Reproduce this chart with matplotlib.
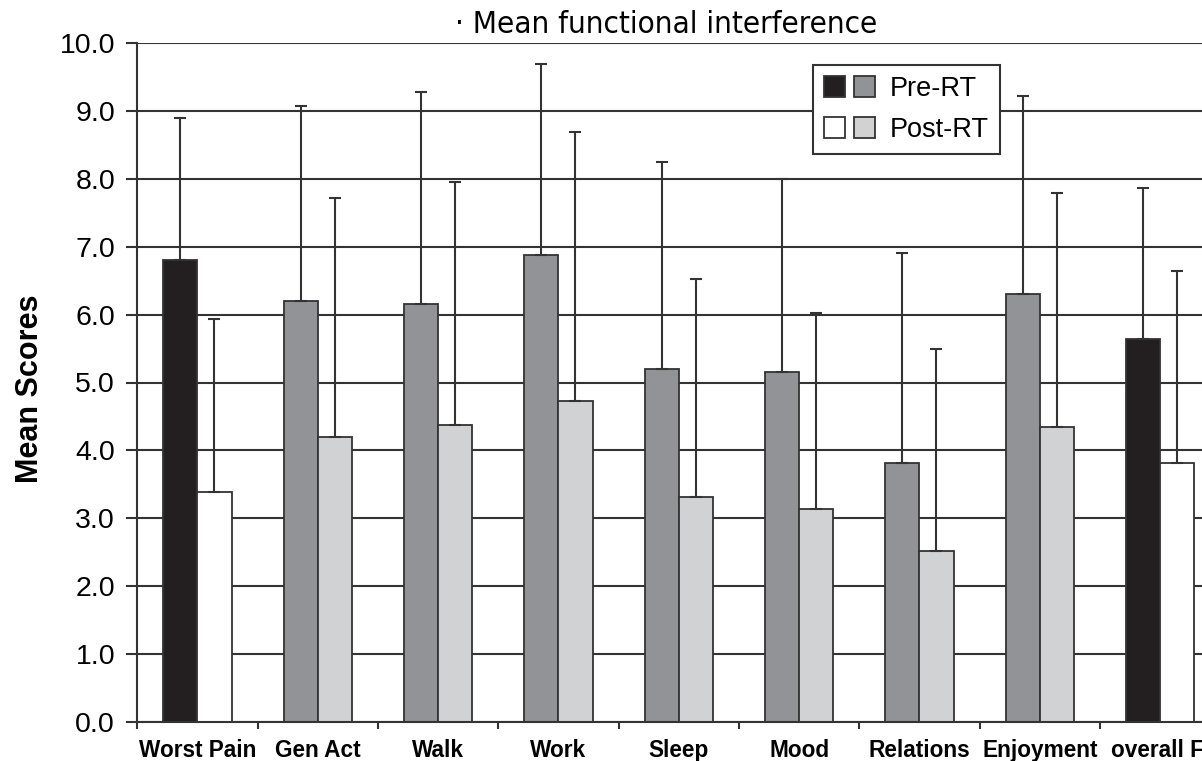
import matplotlib
matplotlib.use("Agg")
import matplotlib.pyplot as plt
import numpy as np
from matplotlib.patches import Patch
from matplotlib.legend_handler import HandlerTuple

# Pain interference items (BPI) before and after radiotherapy
categories = ["Worst Pain", "Gen Act", "Walk", "Work", "Sleep", "Mood",
              "Relations", "Enjoyment", "overall FI"]
pre_mean = [6.80, 6.20, 6.16, 6.88, 5.20, 5.15, 3.82, 6.30, 5.64]
pre_sd = [2.10, 2.87, 3.12, 2.81, 3.05, 2.85, 3.08, 2.92, 2.23]
post_mean = [3.38, 4.20, 4.37, 4.73, 3.31, 3.14, 2.52, 4.34, 3.81]
post_sd = [2.56, 3.51, 3.58, 3.96, 3.21, 2.88, 2.97, 3.45, 2.83]
yticks = [0, 1, 2, 3, 4, 5, 6, 7, 8, 9, 10]

# pain-severity items use black/white, interference items use greys
BLACK, DARK, LIGHT, WHITE = "#231f20", "#929396", "#d1d2d4", "#ffffff"
severity = {"Worst Pain", "overall FI"}
pre_colors = [BLACK if c in severity else DARK for c in categories]
post_colors = [WHITE if c in severity else LIGHT for c in categories]

EDGE = "#333333"
W, H = 1202, 761
fig = plt.figure(figsize=(W / 100, H / 100), dpi=100)
ax = fig.add_axes([137.3 / W, (H - 722) / H, 1083 / W, 679 / H])

n = len(categories)
centers = np.arange(n) + 0.5
bw = 0.283

ax.bar(centers - bw / 2, pre_mean, width=bw, color=pre_colors,
       edgecolor=EDGE, linewidth=1.3, zorder=3)
ax.bar(centers + bw / 2, post_mean, width=bw, color=post_colors,
       edgecolor=EDGE, linewidth=1.3, zorder=3)

zeros = np.zeros(n)
for xs, m, sd in ((centers - bw / 2, pre_mean, pre_sd),
                  (centers + bw / 2, post_mean, post_sd)):
    ax.errorbar(xs, m, yerr=[zeros, sd], fmt="none", ecolor=EDGE,
                elinewidth=1.5, capsize=4.5, capthick=1.5, zorder=4)

ax.set_xlim(0, n)
ax.set_ylim(0, 10)
ax.set_yticks(yticks)
ax.set_yticklabels([f"{v:.1f}" for v in yticks])
ax.yaxis.grid(True, color=EDGE, linewidth=1.5, zorder=0)
ax.set_axisbelow(True)

ax.set_xticks(np.arange(n + 1))
ax.set_xticklabels([])
ax.set_xticks(centers, minor=True)
ax.set_xticklabels(categories, minor=True, fontsize=16.3, fontweight="bold",
                   family="Liberation Sans")
ax.tick_params(axis="x", which="major", length=5, width=1.5, color=EDGE,
               direction="out")
ax.tick_params(axis="x", which="minor", length=0, pad=12)
ax.tick_params(axis="y", length=8, width=1.5, color=EDGE, pad=8,
               labelsize=20.5)
for lab in ax.get_yticklabels():
    lab.set_family("Liberation Sans")

for s in ("top", "right"):
    ax.spines[s].set_visible(False)
for s in ("left", "bottom"):
    ax.spines[s].set_color(EDGE)
    ax.spines[s].set_linewidth(1.5)
    ax.spines[s].set_zorder(5)

fig.text(30 / W, 1 - 389 / H, "Mean Scores", rotation=90, ha="center",
         va="center", fontsize=22, fontweight="bold", family="Liberation Sans")

fig.text(666 / W, 1 - 33 / H, "\u00b7 Mean functional interference",
         ha="center", va="baseline", fontsize=22.5, family="DejaVu Sans",
         fontstretch="condensed")

handles = [(Patch(facecolor=BLACK, edgecolor=EDGE, linewidth=1.3),
            Patch(facecolor=DARK, edgecolor=EDGE, linewidth=1.3)),
           (Patch(facecolor=WHITE, edgecolor=EDGE, linewidth=1.3),
            Patch(facecolor=LIGHT, edgecolor=EDGE, linewidth=1.3))]
leg = fig.legend(handles, ["Pre-RT", "Post-RT"],
                 handler_map={tuple: HandlerTuple(ndivide=None, pad=0.34)},
                 loc="upper left", bbox_to_anchor=(813 / W, 1 - 65 / H),
                 borderaxespad=0, fancybox=False, framealpha=1,
                 edgecolor=EDGE, handlelength=1.9, handleheight=0.8,
                 handletextpad=0.55, labelspacing=0.55, borderpad=0.4,
                 prop={"family": "Liberation Sans", "size": 19.5})
leg.get_frame().set_linewidth(1.5)

fig.savefig("out.png", dpi=100)
